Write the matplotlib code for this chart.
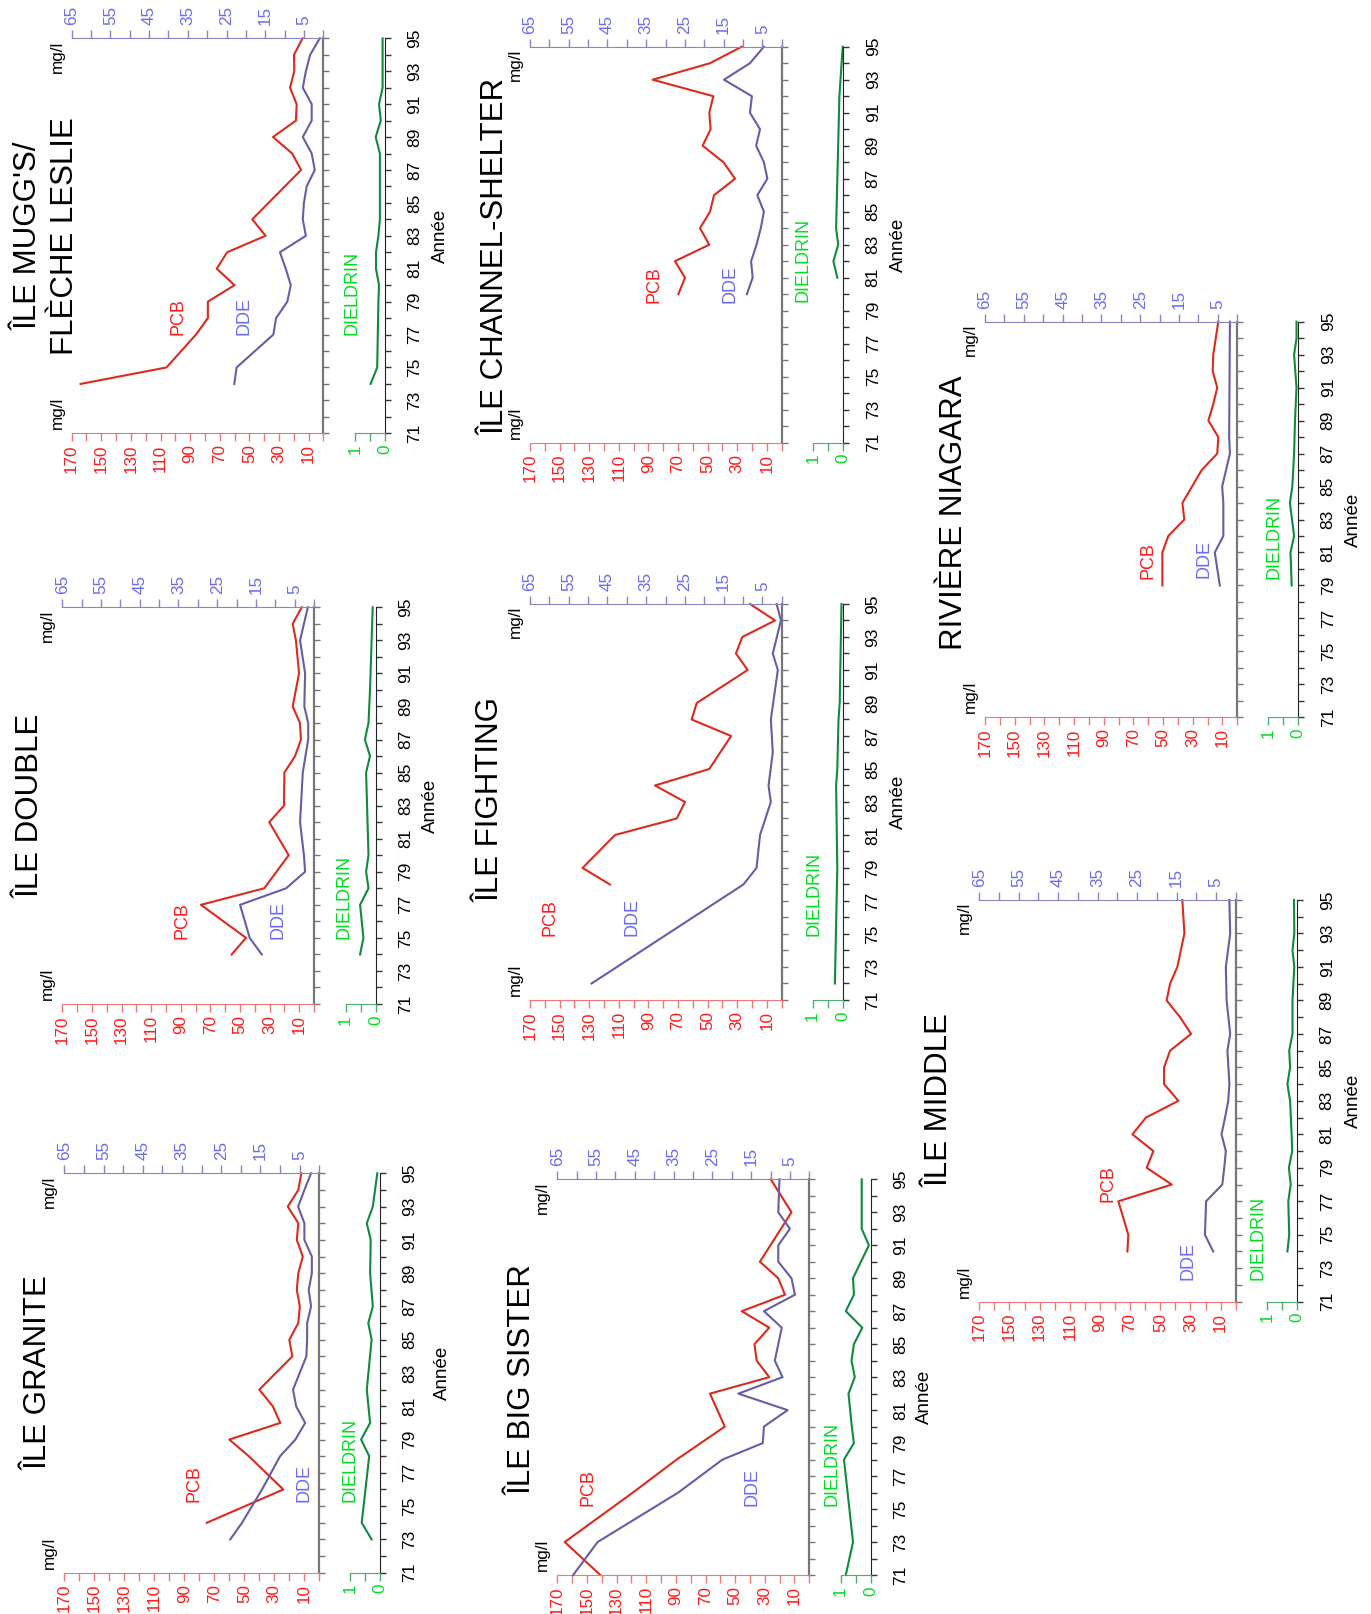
import matplotlib
matplotlib.use("Agg")
import matplotlib.pyplot as plt

plt.rcParams["font.family"] = ["Liberation Sans", "DejaVu Sans"]

W, H = 1371, 1614

# values: years are 19xx, PCB and DDE in mg/l
GRANITE_PCB_YEARS = [74, 76, 78, 79, 80, 81, 82, 84, 85, 86, 87, 88, 89, 90, 91, 92, 93, 94, 95]
GRANITE_PCB = [75, 24, 47, 60, 26, 31, 40, 18, 20, 14, 13, 15, 14, 11, 15, 14, 21, 14, 12]
GRANITE_DDE_YEARS = [73, 74, 76, 78, 79, 80, 81, 82, 83, 84, 85, 86, 87, 88, 89, 90, 91, 92, 93, 94, 95]
GRANITE_DDE = [22.7, 19.7, 14.6, 10.0, 6.1, 3.6, 5.9, 6.7, 5.0, 3.3, 3.1, 3.1, 2.1, 2.7, 1.9, 1.9, 3.8, 3.8, 5.4, 3.8, 2.1]
GRANITE_DIEL_YEARS = [73, 74, 78, 79, 80, 82, 85, 86, 87, 89, 91, 92, 93, 95]
GRANITE_DIEL = [0.28, 0.61, 0.36, 0.63, 0.33, 0.44, 0.28, 0.39, 0.24, 0.33, 0.31, 0.44, 0.24, 0.09]

DOUBLE_PCB_YEARS = [74, 75, 77, 78, 80, 82, 83, 85, 86, 87, 88, 89, 91, 93, 94, 95]
DOUBLE_PCB = [55.6, 45.9, 76.4, 33.6, 17.1, 30.2, 20.3, 20.0, 12.8, 8.8, 9.5, 14.4, 10.1, 12.2, 14.4, 8.3]
DOUBLE_DDE_YEARS = [74, 75, 77, 78, 79, 80, 82, 85, 87, 88, 89, 91, 93, 95]
DOUBLE_DDE = [13.5, 16.6, 19.1, 7.2, 2.3, 2.6, 3.6, 2.9, 1.5, 1.5, 2.5, 2.3, 3.6, 1.6]
DOUBLE_DIEL_YEARS = [74, 75, 77, 78, 79, 80, 85, 86, 87, 88, 90, 95]
DOUBLE_DIEL = [0.52, 0.41, 0.52, 0.24, 0.32, 0.24, 0.32, 0.19, 0.36, 0.24, 0.19, 0.10]

MUGGS_PCB_YEARS = [74, 75, 77, 78, 79, 80, 81, 82, 83, 84, 87, 88, 89, 90, 91, 92, 93, 94, 95]
MUGGS_PCB = [164, 106, 86, 78, 78, 60, 72, 65, 39, 48, 15, 21, 34, 18.5, 18, 22.5, 19.6, 19.8, 14]
MUGGS_DDE_YEARS = [74, 75, 77, 78, 79, 80, 81, 82, 83, 84, 85, 86, 87, 88, 89, 90, 91, 92, 93, 94, 95]
MUGGS_DDE = [23, 22.4, 12.9, 12.2, 9.3, 8.4, 9.7, 11.2, 4.5, 5.3, 5.0, 4.3, 2.2, 3.0, 5.3, 3.0, 3.0, 5.3, 4.5, 3.4, 0.9]
MUGGS_DIEL_YEARS = [74, 75, 79, 80, 81, 82, 83, 84, 88, 89, 90, 91, 92, 95]
MUGGS_DIEL = [0.48, 0.26, 0.22, 0.20, 0.30, 0.30, 0.22, 0.17, 0.17, 0.31, 0.14, 0.20, 0.08, 0.08]

BIGSISTER_PCB_YEARS = [71, 73, 76, 78, 80, 82, 83, 84, 85, 86, 87, 88, 89, 90, 93, 95]
BIGSISTER_PCB = [141, 165, 119, 89.5, 57, 67, 27, 35.5, 37, 27, 45.6, 16.4, 21, 33.3, 12, 26]
BIGSISTER_DDE_YEARS = [71, 73, 76, 78, 79, 80, 81, 82, 83, 84, 86, 87, 88, 89, 90, 91, 92, 93, 95]
BIGSISTER_DDE = [60.9, 54.6, 33.8, 22.4, 12.0, 11.7, 5.6, 18.3, 6.9, 8.9, 7.1, 11.7, 3.7, 4.6, 8.0, 8.0, 5.0, 8.0, 7.7]
BIGSISTER_DIEL_YEARS = [71, 73, 78, 79, 80, 82, 83, 84, 85, 86, 87, 88, 89, 91, 92, 95]
BIGSISTER_DIEL = [0.83, 0.59, 0.89, 0.56, 0.63, 0.74, 0.53, 0.64, 0.56, 0.28, 0.83, 0.56, 0.59, 0.06, 0.30, 0.30]

FIGHTING_PCB_YEARS = [78, 79, 81, 82, 83, 84, 85, 87, 88, 89, 91, 92, 93, 94, 95]
FIGHTING_PCB = [116, 134.5, 112.6, 70.9, 65.3, 85.6, 48.9, 34.2, 60.8, 57.4, 23, 30.9, 26.6, 4.5, 21.4]
FIGHTING_DDE_YEARS = [72, 78, 79, 81, 83, 84, 86, 88, 91, 92, 94, 95]
FIGHTING_DDE = [49.1, 9.9, 6.5, 5.6, 2.8, 3.4, 2.3, 2.8, 1.0, 2.3, 0.2, 1.3]
FIGHTING_DIEL_YEARS = [72, 79, 84, 85, 88, 89, 95]
FIGHTING_DIEL = [0.26, 0.18, 0.22, 0.18, 0.14, 0.10, 0.04]

CHANNEL_PCB_YEARS = [80, 81, 82, 83, 84, 85, 86, 87, 88, 89, 90, 91, 92, 93, 94, 95]
CHANNEL_PCB = [69.8, 65.3, 72.1, 48.9, 55.2, 48.4, 45.7, 31.5, 39.4, 53.4, 48.0, 48.9, 46.2, 87.2, 48.4, 27.0]
CHANNEL_DDE_YEARS = [80, 81, 82, 83, 84, 85, 86, 87, 88, 89, 90, 91, 92, 93, 94, 95]
CHANNEL_DDE = [9.0, 7.5, 7.9, 6.5, 5.4, 4.6, 6.3, 3.7, 4.6, 6.6, 5.6, 8.2, 7.7, 14.9, 8.2, 4.6]
CHANNEL_DIEL_YEARS = [81, 82, 83, 84, 92, 95]
CHANNEL_DIEL = [0.20, 0.33, 0.17, 0.24, 0.13, 0.02]

MIDDLE_PCB_YEARS = [74, 75, 77, 78, 79, 80, 81, 82, 83, 84, 85, 86, 87, 88, 89, 90, 91, 93, 95]
MIDDLE_PCB = [71.8, 71.2, 77.8, 42.4, 59, 54.6, 68.5, 59.5, 38, 47.5, 47.5, 43.5, 29.6, 36.9, 45.8, 43.5, 38.7, 34, 35.4]
MIDDLE_DDE_YEARS = [74, 75, 77, 78, 79, 80, 81, 82, 83, 84, 86, 87, 89, 91, 93, 95]
MIDDLE_DDE = [5.7, 7.8, 7.5, 3.4, 2.9, 2.5, 3.6, 2.7, 1.9, 1.6, 2.1, 1.4, 2.3, 2.5, 1.4, 1.6]
MIDDLE_DIEL_YEARS = [74, 75, 77, 78, 79, 80, 81, 83, 84, 85, 86, 87, 89, 91, 92, 93, 95]
MIDDLE_DIEL = [0.33, 0.27, 0.30, 0.22, 0.28, 0.17, 0.19, 0.24, 0.33, 0.24, 0.27, 0.16, 0.16, 0.10, 0.16, 0.10, 0.11]

NIAGARA_PCB_YEARS = [79, 81, 82, 83, 84, 86, 87, 88, 89, 90, 91, 92, 93, 95]
NIAGARA_PCB = [50.5, 50.5, 46.5, 35.7, 37, 24, 13.5, 12.8, 19.5, 16.2, 13.5, 16.6, 16.2, 12.8]
NIAGARA_DDE_YEARS = [79, 81, 82, 84, 85, 87, 88, 95]
NIAGARA_DDE = [4.5, 5.8, 3.6, 3.6, 3.9, 1.9, 2.1, 1.9]
NIAGARA_DIEL_YEARS = [79, 81, 82, 84, 85, 87, 89, 91, 93, 94, 95]
NIAGARA_DIEL = [0.22, 0.26, 0.14, 0.28, 0.20, 0.14, 0.11, 0.06, 0.14, 0.06, 0.06]

RED_TXT, RED_LINE, RED_AXIS = "#ff1a1a", "#dc2a1c", "#ee7777"
BLUE_TXT, BLUE_LINE, BLUE_AXIS = "#6b6bf5", "#675da6", "#8a84c4"
GREEN_TXT, GREEN_LINE, GREEN_AXIS = "#00dd22", "#118a3c", "#4caf6e"
GRAY = "#777777"

# pixel layout of each panel (image coords, y down)
PANELS = [
    dict(box=(64.3, 1173.3, 319.3, 1572.7), xd=380, titles=[("ÎLE GRANITE", 46.7)], title_y=1373,
         pcb_lab=(199, 1502), dde_lab=(308, 1502), die_lab=(354, 1502), annee=(447, 83),
         data=(GRANITE_PCB_YEARS, GRANITE_PCB, GRANITE_DDE_YEARS, GRANITE_DDE, GRANITE_DIEL_YEARS, GRANITE_DIEL)),
    dict(box=(62.3, 607.3, 314, 1004), xd=375.7, titles=[("ÎLE DOUBLE", 38.3)], title_y=806,
         pcb_lab=(186, 939), dde_lab=(282, 939), die_lab=(348, 939), annee=(435, 83),
         data=(DOUBLE_PCB_YEARS, DOUBLE_PCB, DOUBLE_DDE_YEARS, DOUBLE_DDE, DOUBLE_DIEL_YEARS, DOUBLE_DIEL)),
    dict(box=(71.7, 38.3, 323.3, 433.3), xd=385, titles=[("ÎLE MUGG'S/", 36.7), ("FLÈCHE LESLIE", 73.3)], title_y=236,
         pcb_lab=(182, 335), dde_lab=(249, 335), die_lab=(356, 335), annee=(445, 83),
         data=(MUGGS_PCB_YEARS, MUGGS_PCB, MUGGS_DDE_YEARS, MUGGS_DDE, MUGGS_DIEL_YEARS, MUGGS_DIEL)),
    dict(box=(557.3, 1179.3, 809.3, 1575), xd=870.7, titles=[("ÎLE BIG SISTER", 531)], title_y=1380,
         pcb_lab=(592, 1506), dde_lab=(757, 1506), die_lab=(836, 1506), annee=(929, 81.8),
         data=(BIGSISTER_PCB_YEARS, BIGSISTER_PCB, BIGSISTER_DDE_YEARS, BIGSISTER_DDE, BIGSISTER_DIEL_YEARS, BIGSISTER_DIEL)),
    dict(box=(530, 604, 781.7, 1000), xd=842.7, titles=[("ÎLE FIGHTING", 498.3)], title_y=800,
         pcb_lab=(554, 936), dde_lab=(636, 936), die_lab=(818, 936), annee=(903, 83),
         data=(FIGHTING_PCB_YEARS, FIGHTING_PCB, FIGHTING_DDE_YEARS, FIGHTING_DDE, FIGHTING_DIEL_YEARS, FIGHTING_DIEL)),
    dict(box=(530, 46.7, 781.7, 442.7), xd=843.3, titles=[("ÎLE CHANNEL-SHELTER", 503.3)], title_y=256,
         pcb_lab=(658, 303), dde_lab=(735, 303), die_lab=(808, 302), annee=(903, 83),
         data=(CHANNEL_PCB_YEARS, CHANNEL_PCB, CHANNEL_DDE_YEARS, CHANNEL_DDE, CHANNEL_DIEL_YEARS, CHANNEL_DIEL)),
    dict(box=(979.3, 900, 1235.7, 1301.7), xd=1297.3, titles=[("ÎLE MIDDLE", 947.3)], title_y=1100,
         pcb_lab=(1112, 1202), dde_lab=(1192, 1280), die_lab=(1262, 1280), annee=(1358, 83),
         data=(MIDDLE_PCB_YEARS, MIDDLE_PCB, MIDDLE_DDE_YEARS, MIDDLE_DDE, MIDDLE_DIEL_YEARS, MIDDLE_DIEL)),
    dict(box=(985, 321.7, 1237.3, 717.3), xd=1298.3, titles=[("RIVIÈRE NIAGARA", 961.7)], title_y=513,
         pcb_lab=(1153, 579), dde_lab=(1208, 578), die_lab=(1278, 579), annee=(1358, 83),
         data=(NIAGARA_PCB_YEARS, NIAGARA_PCB, NIAGARA_DDE_YEARS, NIAGARA_DDE, NIAGARA_DIEL_YEARS, NIAGARA_DIEL)),
]

fig = plt.figure(figsize=(W / 100, H / 100), dpi=100)


def px_rect(x0, y0, x1, y1):
    return [x0 / W, 1 - y1 / H, (x1 - x0) / W, (y1 - y0) / H]


def put(x, y, s, color="black", size=12, ha="center"):
    # rotated text, baseline at image x, anchored at image y
    fig.text(x / W, 1 - y / H, s, color=color, fontsize=size, rotation=90,
             rotation_mode="anchor", ha=ha, va="baseline")


def draw_panel(p):
    x0, y0, x1, y1 = p["box"]
    pcb_y, pcb, dde_y, dde, die_y, die = p["data"]

    # PCB scale on the lower edge, years running upward
    ax = fig.add_axes(px_rect(x0, y0, x1, y1))
    ax.patch.set_visible(False)
    ax.set_xlim(170, 0)
    ax.set_ylim(71, 95)
    ax.plot(pcb, pcb_y, color=RED_LINE, lw=1.5, clip_on=False)
    ax.set_xticks(range(10, 171, 20))
    ax.set_xticks(range(0, 171, 20), minor=True)
    ax.tick_params(axis="x", which="both", direction="out", length=5.5, width=1,
                   color=RED_AXIS, labelcolor=RED_TXT, labelsize=12.3, pad=2.5,
                   labelrotation=90)
    ax.set_yticks(range(71, 96))
    ax.tick_params(axis="y", which="both", left=False, right=True, labelleft=False,
                   labelright=False, direction="out", length=4.1, width=1, color=GRAY)
    for side in ("left", "top"):
        ax.spines[side].set_visible(False)
    ax.spines["bottom"].set_color(RED_AXIS)
    ax.spines["right"].set_color(GRAY)
    ax.spines["right"].set_linewidth(1.6)

    # DDE scale on the upper edge
    ax2 = ax.twiny()
    ax2.set_xlim(65, 0)
    ax2.plot(dde, dde_y, color=BLUE_LINE, lw=1.5, clip_on=False)
    ax2.set_xticks(range(5, 66, 10))
    ax2.set_xticks(range(0, 66, 10), minor=True)
    ax2.tick_params(axis="x", which="both", direction="out", length=5.8, width=1,
                    color=BLUE_AXIS, labelcolor=BLUE_TXT, labelsize=12.3, pad=3.5,
                    labelrotation=90)
    for side in ("left", "right", "bottom"):
        ax2.spines[side].set_visible(False)
    ax2.spines["top"].set_color(BLUE_AXIS)

    # small dieldrin strip with the year labels
    xd = p["xd"]
    axd = fig.add_axes(px_rect(xd - 30, y0, xd, y1))
    axd.patch.set_visible(False)
    axd.set_xlim(1, 0)
    axd.set_ylim(71, 95)
    axd.plot(die, die_y, color=GREEN_LINE, lw=1.5, clip_on=False)
    axd.set_xticks([0, 0.5, 1], ["0", "", "1"])
    axd.tick_params(axis="x", direction="out", length=5.5, width=1, color=GREEN_AXIS,
                    labelcolor=GREEN_TXT, labelsize=12.3, pad=2.5, labelrotation=90)
    axd.set_yticks(range(71, 96, 2))
    axd.set_yticks(range(72, 95, 2), minor=True)
    axd.tick_params(axis="y", which="both", left=False, right=True, labelleft=False,
                    labelright=True, direction="out", length=4.1, width=1,
                    color="#333333", labelsize=12.5, pad=12, labelrotation=90)
    for lab in axd.get_yticklabels():
        lab.set_va("center")
    for side in ("left", "top"):
        axd.spines[side].set_visible(False)
    axd.spines["bottom"].set_color(GREEN_AXIS)
    axd.spines["right"].set_color("#222222")

    # texts
    for text, bx in p["titles"]:
        put(bx, p["title_y"], text, size=22.5)
    put(x0 - 10, y1 - 4, "mg/l", size=12.3, ha="left")
    put(x0 - 10, y0 + 2, "mg/l", size=12.3, ha="right")
    put(*p["pcb_lab"], "PCB", color=RED_TXT, size=13, ha="left")
    put(*p["dde_lab"], "DDE", color=BLUE_TXT, size=13, ha="left")
    put(*p["die_lab"], "DIELDRIN", color=GREEN_TXT, size=13, ha="left")
    ax_x, ax_year = p["annee"]
    put(ax_x, y1 - (ax_year - 71) / 24 * (y1 - y0), "Année", size=13.5)


for p in PANELS:
    draw_panel(p)

fig.savefig("out.png", dpi=100)
